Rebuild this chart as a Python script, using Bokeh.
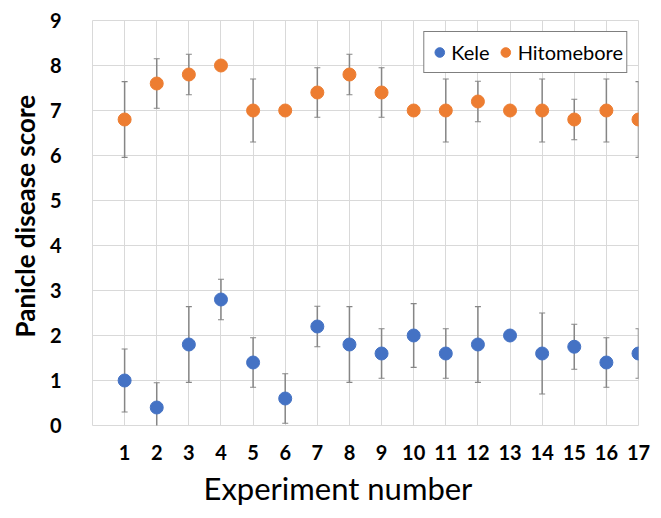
from bokeh.plotting import figure
from bokeh.models import ColumnDataSource, Whisker, TeeHead, FixedTicker, Legend, LegendItem, Title
from bokeh.embed import file_html
from bokeh.resources import INLINE

experiments = list(range(1, 18))
kele = [1.0, 0.4, 1.8, 2.8, 1.4, 0.6, 2.2, 1.8, 1.6, 2.0, 1.6, 1.8, 2.0, 1.6, 1.75, 1.4, 1.6]
kele_err = [0.7, 0.55, 0.84, 0.45, 0.55, 0.55, 0.45, 0.84, 0.55, 0.71, 0.55, 0.84, 0.0, 0.9, 0.5, 0.55, 0.55]
hitomebore = [6.8, 7.6, 7.8, 8.0, 7.0, 7.0, 7.4, 7.8, 7.4, 7.0, 7.0, 7.2, 7.0, 7.0, 6.8, 7.0, 6.8]
hitomebore_err = [0.84, 0.55, 0.45, 0.0, 0.7, 0.0, 0.55, 0.45, 0.55, 0.0, 0.7, 0.45, 0.0, 0.7, 0.45, 0.7, 0.84]
y_ticks = list(range(0, 10))

BLUE = "#4472C4"
ORANGE = "#ED7D31"
ERR = "#868686"
GRID = "#d9d9d9"
FONT = "Lato"

p = figure(width=661, height=518, x_range=(0, 17), y_range=(0, 9),
           output_backend="svg", toolbar_location=None,
           min_border_left=92, min_border_right=23, min_border_top=20, min_border_bottom=93)

def series(vals, errs):
    lower = [v - e for v, e in zip(vals, errs)]
    upper = [v + e for v, e in zip(vals, errs)]
    return ColumnDataSource(dict(x=experiments, y=vals, lower=lower, upper=upper))

src_k = series(kele, kele_err)
src_h = series(hitomebore, hitomebore_err)

for src in (src_k, src_h):
    w = Whisker(source=src, base="x", upper="upper", lower="lower", dimension="height",
                line_color=ERR, line_width=1.5,
                upper_head=TeeHead(size=6, line_color=ERR, line_width=1.2),
                lower_head=TeeHead(size=6, line_color=ERR, line_width=1.2))
    p.add_layout(w)

r_k = p.scatter("x", "y", source=src_k, size=13, color=BLUE, line_color=BLUE)
r_h = p.scatter("x", "y", source=src_h, size=13, color=ORANGE, line_color=ORANGE)

p.xaxis.ticker = FixedTicker(ticks=experiments)
p.yaxis.ticker = FixedTicker(ticks=y_ticks)
p.xgrid.ticker = FixedTicker(ticks=experiments)
for g in (p.xgrid, p.ygrid):
    g.grid_line_color = GRID
    g.grid_line_width = 1
    g.grid_line_alpha = 1
p.outline_line_color = GRID
p.outline_line_width = 1

for ax in (p.xaxis, p.yaxis):
    ax.axis_line_color = None
    ax.major_tick_line_color = None
    ax.minor_tick_line_color = None
    ax.major_label_text_font = FONT
    ax.major_label_text_font_style = "bold"
    ax.major_label_text_color = "black"

p.yaxis.major_label_text_font_size = "20px"
p.yaxis.major_label_standoff = 25
p.xaxis.major_label_text_font_size = "20px"
p.xaxis.major_label_standoff = 13

y_title = Title(text="Panicle disease score", align="left", offset=88, standoff=11,
                text_font=FONT, text_font_size="26px", text_font_style="bold", text_color="black")
p.add_layout(y_title, "left")
x_title = Title(text="Experiment number", align="left", offset=111, standoff=8,
                text_font=FONT, text_font_size="31px", text_font_style="normal", text_color="black")
p.add_layout(x_title, "below")

legend = Legend(items=[LegendItem(label="Kele", renderers=[r_k]),
                       LegendItem(label="Hitomebore", renderers=[r_h])],
                orientation="horizontal", location="top_right", margin=11,
                padding=3, spacing=4, label_standoff=0,
                glyph_width=24, glyph_height=34,
                label_text_font=FONT, label_text_font_size="20px", label_text_color="black",
                border_line_color="black", border_line_width=1.5,
                background_fill_color="white", background_fill_alpha=1)
p.add_layout(legend)

open("out.html", "w").write(file_html(p, INLINE))
